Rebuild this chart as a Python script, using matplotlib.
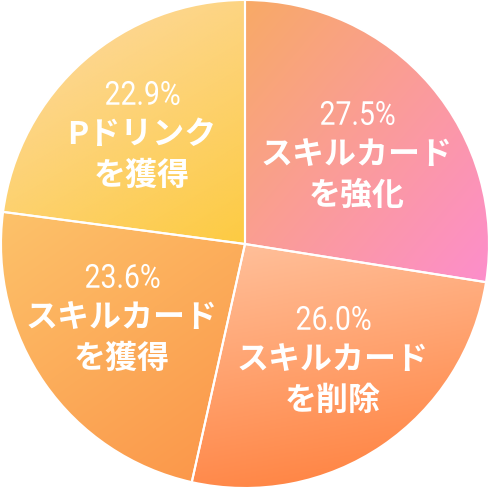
#!/usr/bin/env python3
"""
プロデュース行動の割合 (グラデーション付き円グラフ)
"""

import numpy as np
import matplotlib
matplotlib.use('Agg')
import matplotlib.pyplot as plt
from matplotlib.colors import LinearSegmentedColormap
from matplotlib.textpath import TextPath
from matplotlib.patches import PathPatch
from matplotlib.font_manager import FontProperties
from matplotlib.transforms import Affine2D

# データ (時計回り、上から)
shares = [27.5, 26.0, 23.6, 22.9]
pct_labels = ['27.5%', '26.0%', '23.6%', '22.9%']
name_line1 = ['スキルカード', 'スキルカード', 'スキルカード', 'Pドリンク']
name_line2 = ['を強化', 'を削除', 'を獲得', 'を獲得']

# グラデーションの色 (始点 -> 終点) と向き
color_start = ['#F8AA66', '#FFBF99', '#FDC26A', '#FDD68C']
color_end = ['#FD8ECB', '#FF8747', '#FB984B', '#FDCB42']
grad_angle = [-40, -80, -55, -60]

# ラベル中心 (ピクセル, 上原点)
label_px = [(357, 155), (333, 360), (122, 318), (142, 135)]

W = 491
CX, CY, R = 245, 244, 244


def px_to_data(px, py):
    return (px - CX) / R, (CY - py) / R


fig = plt.figure(figsize=(W / 100, W / 100), dpi=100)
ax = fig.add_axes([0, 0, 1, 1])

wedges, _ = ax.pie(shares, startangle=90, counterclock=False, radius=1,
                   colors=['none'] * 4,
                   wedgeprops=dict(edgecolor='white', linewidth=1.5))

# pie() が範囲を変えるので後で設定
ax.set_xlim(-CX / R, (W - CX) / R)
ax.set_ylim(-(W - CY) / R, CY / R)
ax.set_aspect('equal')
ax.axis('off')

# 各扇形にグラデーションを描く
N = 500
xs = np.linspace(-1, 1, N)
gx, gy = np.meshgrid(xs, xs)
for i, w in enumerate(wedges):
    a = np.deg2rad(grad_angle[i])
    d = np.array([np.cos(a), np.sin(a)])
    th = np.deg2rad(np.linspace(w.theta1, w.theta2, 60))
    pts = np.vstack([[0, 0], np.column_stack([np.cos(th), np.sin(th)])])
    proj = pts @ d
    t = (gx * d[0] + gy * d[1] - proj.min()) / (proj.max() - proj.min())
    t = np.clip(t, 0, 1)
    cmap = LinearSegmentedColormap.from_list(f'g{i}', [color_start[i], color_end[i]])
    im = ax.imshow(t, cmap=cmap, extent=(-1, 1, -1, 1), origin='lower',
                   vmin=0, vmax=1, zorder=1, interpolation='bilinear')
    im.set_clip_path(w)
    w.set_zorder(2)


# 細長い数字 (横方向に少し縮める)
pct_font = FontProperties(family='Roboto', weight='normal')


def narrow_text(s, x, y, size_px, sx=0.86):
    tp = TextPath((0, 0), s, size=size_px / R, prop=pct_font)
    v = tp.vertices
    bx = (v[:, 0].min() + v[:, 0].max()) / 2
    by = (v[:, 1].min() + v[:, 1].max()) / 2
    tr = Affine2D().translate(-bx, -by).scale(sx, 1).translate(x, y)
    path = tr.transform_path(tp)
    ax.add_patch(PathPatch(path, facecolor='white', edgecolor='none', zorder=3))


# ラベル
for i in range(len(shares)):
    px, py = label_px[i]
    x, y = px_to_data(px, py)
    dy = 41 / R
    narrow_text(pct_labels[i], x, y + 42 / R, 33)
    ax.text(x, y, name_line1[i], color='white', fontsize=23,
            family=['Noto Sans CJK JP', 'DejaVu Sans'], fontweight='bold',
            ha='center', va='center', zorder=3)
    ax.text(x, y - dy, name_line2[i], color='white', fontsize=23,
            family=['Noto Sans CJK JP', 'DejaVu Sans'], fontweight='bold',
            ha='center', va='center', zorder=3)

plt.savefig('out.png', dpi=100)
plt.close()
